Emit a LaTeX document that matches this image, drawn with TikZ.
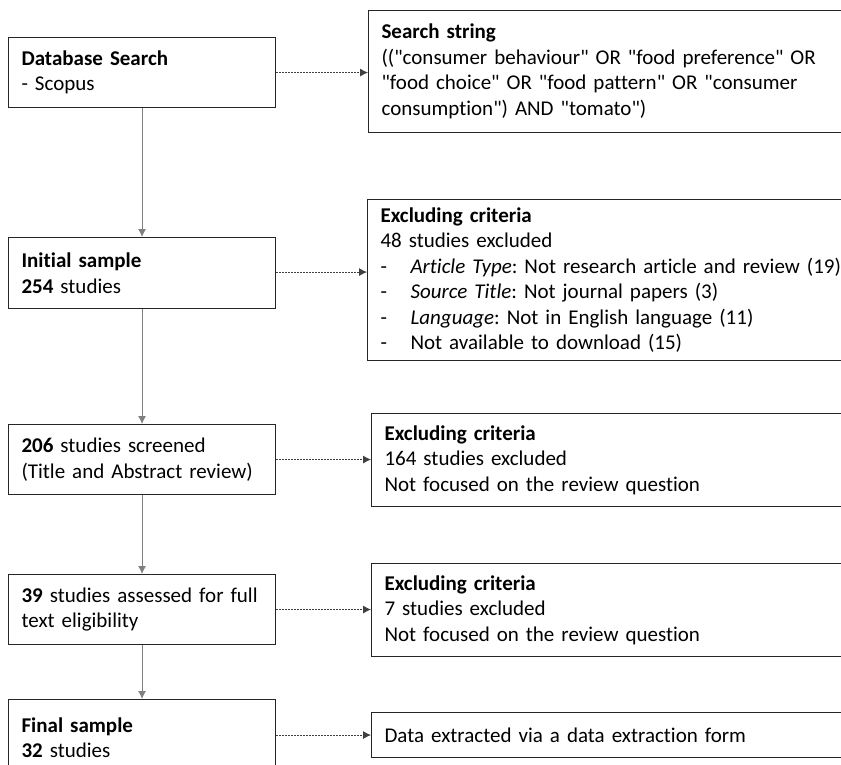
\documentclass[tikz,border=0pt]{standalone}
\usepackage{fontspec}
\setmainfont{Carlito}[Ligatures={TeXOff,NoCommon}]
\usepackage{tikz}
\usetikzlibrary{arrows.meta,positioning}
\frenchspacing

\begin{document}
\begin{tikzpicture}[
    x=1pt, y=-1pt,
    >={Latex[length=8pt,width=8pt]},
    font=\fontsize{21}{25.5}\selectfont,
    step box/.style={
		rectangle,
		draw=black!85,
		line width=1.1pt,
		anchor=north west,
		align=left,
		inner xsep=13pt,
		text width=241pt,
		minimum height=70pt,
		fill=white
	},
    note box/.style={
		step box,
		inner xsep=13pt,
		text width=520pt
	},
    flow/.style={
		draw=black!50,
		line width=1pt
	},
    link/.style={
		draw=black!75,
		line width=0.8pt,
		dash pattern=on 2pt off 1pt
	}
  ]
  \clip (0,0) rectangle (841,764);

    % left column: the screening steps
  \node [step box] (search) at (8,37)
 {\textbf{Database Search}\\- Scopus};

  \node [step box, minimum height=71pt] (initial) at (8,237)
 {\textbf{Initial sample}\\\textbf{254} studies};

  \node [step box] (screened) at (8,424)
 {\textbf{206} studies screened\\(Title and Abstract review)};

  \node [step box] (eligible) at (8,574)
 {\textbf{39} studies assessed for full\\text eligibility};

  \node [step box, minimum height=76pt] (final) at (8,699)
 {\textbf{Final sample}\\\textbf{32} studies};

    % right column: what happens at each step
  \node [note box, minimum height=122pt] (string) at (368,10)
 {\textbf{Search string}\\
  (("consumer behaviour" OR "food preference" OR\\
  "food choice" OR "food pattern" OR "consumer\\
  consumption") AND "tomato")};

  \node [note box, minimum height=161pt] (crit1) at (367,199)
 {\textbf{Excluding criteria}\\
  48 studies excluded\\
  \makebox[30pt][l]{-}\textit{Article Type}: Not research article and review (19)\\
  \makebox[30pt][l]{-}\textit{Source Title}: Not journal papers (3)\\
  \makebox[30pt][l]{-}\textit{Language}: Not in English language (11)\\
  \makebox[30pt][l]{-}Not available to download (15)};

  \node [note box, minimum height=93pt] (crit2) at (371,413)
 {\textbf{Excluding criteria}\\
  164 studies excluded\\
  Not focused on the review question};

  \node [note box, minimum height=93pt] (crit3) at (371,563)
 {\textbf{Excluding criteria}\\
  7 studies excluded\\
  Not focused on the review question};

  \node [note box, minimum height=45pt] (extract) at (371,712)
 {Data extracted via a data extraction form};

    % connectors
 \draw [flow,->] (search) -- (initial);
 \draw [flow,->] (initial) -- (screened);
 \draw [flow,->] (screened) -- (eligible);
 \draw [flow,->] (eligible) -- (final);

 \draw [link,->] (search) -- (search -| string.west);
 \draw [link,->] ([yshift=1pt]initial.east) -- ([yshift=1pt]initial.east -| crit1.west);
 \draw [link,->] (screened) -- (screened -| crit2.west);
 \draw [link,->] (eligible) -- (eligible -| crit3.west);
 \draw [link,->] (final.east |- extract) -- (extract.west);

\end{tikzpicture}
\end{document}
